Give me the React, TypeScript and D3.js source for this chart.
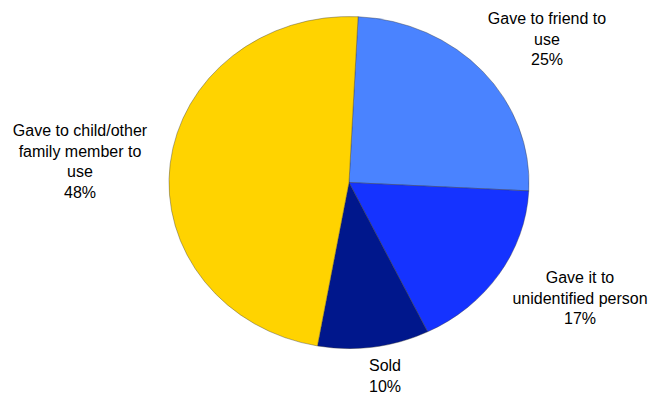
import React from "react";
import * as d3 from "d3";

const categories = [
  "Gave to friend to use",
  "Gave it to unidentified person",
  "Sold",
  "Gave to child/other family member to use",
];
const values = [25, 17, 10, 48];
const labelLines = [
  ["Gave to friend to", "use", "25%"],
  ["Gave it to", "unidentified person", "17%"],
  ["Sold", "10%"],
  ["Gave to child/other", "family member to", "use", "48%"],
];
const colors = ["#4A83FF", "#1533FF", "#00178C", "#FFD300"];

const W = 655;
const H = 394;
const cx = 349;
const cy = 182.5;
const R = 166;
const xScale = 180 / 166;
const startDeg = 2.9;
// label block centres (layout)
const labelPos: [number, number][] = [
  [547, 24],
  [580, 283],
  [385, 371],
  [80, 136],
];
const lineH = 20.5;

export default function App() {
  const pie = d3
    .pie<number>()
    .sort(null)
    .value((d) => d)
    .startAngle((startDeg * Math.PI) / 180)
    .endAngle((startDeg * Math.PI) / 180 + 2 * Math.PI);
  const arcs = pie(values);
  const arc = d3.arc<d3.PieArcDatum<number>>().innerRadius(0).outerRadius(R);
  return (
    <svg
      width={W}
      height={H}
      style={{ position: "absolute", left: 0, top: 0, background: "#fff" }}
      fontFamily="'Liberation Sans', Arial, sans-serif"
    >
      <g transform={`translate(${cx},${cy}) scale(${xScale},1)`}>
        {arcs.map((a, i) => (
          <path
            key={categories[i]}
            d={arc(a) || ""}
            fill={colors[i]}
            stroke="#3a3a3a"
            strokeWidth={0.4}
            vectorEffect="non-scaling-stroke"
          />
        ))}
      </g>
      {labelLines.map((lines, i) => (
        <text
          key={categories[i]}
          x={labelPos[i][0]}
          y={labelPos[i][1]}
          textAnchor="middle"
          fontSize={16}
          fill="#000"
        >
          {lines.map((l, j) => (
            <tspan key={j} x={labelPos[i][0]} y={labelPos[i][1] + j * lineH}>
              {l}
            </tspan>
          ))}
        </text>
      ))}
    </svg>
  );
}
